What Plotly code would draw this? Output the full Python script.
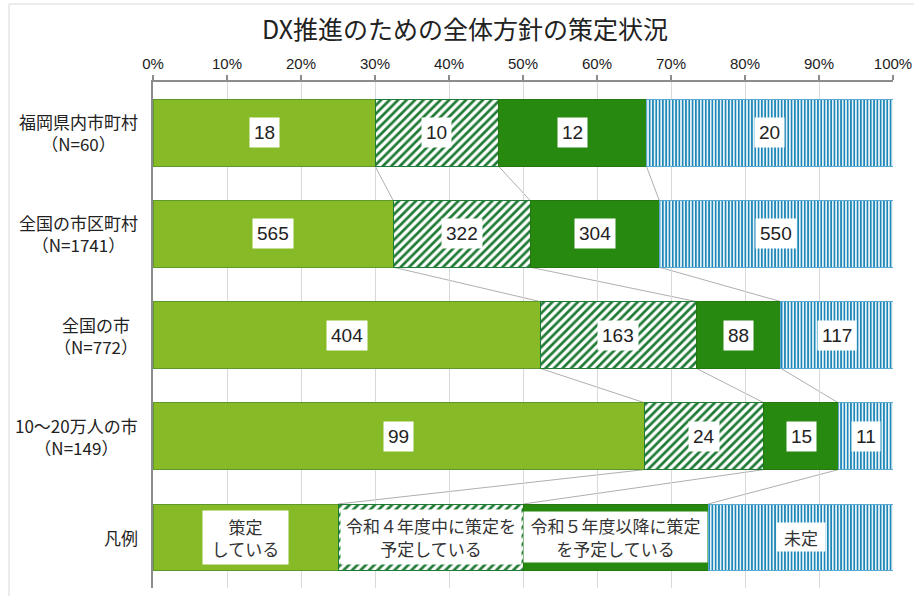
import plotly.graph_objects as go

# ---------------- data ----------------
categories = ["福岡県内市町村", "全国の市区町村", "全国の市", "10～20万人の市", "凡例"]
n_labels = ["（N=60）", "（N=1741）", "（N=772）", "（N=149）", ""]
totals = [60, 1741, 772, 149]

series_names = ["策定している", "令和４年度中に策定を予定している", "令和５年度以降に策定を予定している", "未定"]
sakutei = [18, 565, 404, 99]
r4 = [10, 322, 163, 24]
r5 = [12, 304, 88, 15]
mitei = [20, 550, 117, 11]
legend_share = [25, 25, 25, 25]   # the 凡例 row: four equal parts
legend_texts = ["策定<br>している", "令和４年度中に策定を<br>予定している",
                "令和５年度以降に策定<br>を予定している", "未定"]
x_ticks = [0, 10, 20, 30, 40, 50, 60, 70, 80, 90, 100]
x_tick_labels = [f"{v}%" for v in x_ticks]

# ---------------- styles ----------------
LIGHT = "#86BB27"
DARK = "#27890F"
HATCH = "#1F7A34"
BLUE = "#1D87B8"
NUMFONT = "'Liberation Sans Narrow', 'Liberation Sans', Arial, sans-serif"
JPFONT = "'Noto Sans CJK JP', sans-serif"
BARW = 0.66

counts = [sakutei, r4, r5, mitei]
pct = []
for s in counts:
    row = [v / t * 100 for v, t in zip(s, totals)] + [None]
    pct.append(row)
for k in range(4):
    pct[k][4] = legend_share[k]

styles = [
    dict(color=LIGHT, line=dict(color="#5E9A2A", width=1)),
    dict(color=HATCH, line=dict(color=HATCH, width=1),
         pattern=dict(shape="/", fgcolor=HATCH, bgcolor="white", size=6, solidity=0.45, fillmode="replace")),
    dict(color=DARK, line=dict(color="#22780E", width=1)),
    dict(color=BLUE, line=dict(color="#5AA9D0", width=1),
         pattern=dict(shape="|", fgcolor=BLUE, bgcolor="white", size=3.3, solidity=0.55, fillmode="replace")),
]

fig = go.Figure()
for k in range(4):
    fig.add_trace(go.Bar(
        y=categories, x=pct[k], orientation="h", name=series_names[k],
        marker=styles[k], width=[BARW] * len(categories), hoverinfo="skip",
    ))

annotations = []
# value labels
for i in range(4):
    cum = 0
    for k in range(4):
        p = pct[k][i]
        annotations.append(dict(
            x=cum + p / 2, y=categories[i], xref="x", yref="y",
            text=str(counts[k][i]), showarrow=False,
            font=dict(family=NUMFONT, size=19, color="#222222"),
            bgcolor="white", borderpad=4,
        ))
        cum += p
# legend row labels
leg_sizes = [(83, 51), (178, 52), (181, 48), (46, 26)]
cum = 0
for k in range(4):
    p = pct[k][4]
    w, h = leg_sizes[k]
    annotations.append(dict(
        x=cum + p / 2, y=categories[4], xref="x", yref="y",
        text=legend_texts[k], showarrow=False, align="center",
        font=dict(family=JPFONT, size=17, color="#333333"),
        bgcolor="white", borderpad=1, width=w, height=h,
    ))
    cum += p
# y-axis category labels
for i, c in enumerate(categories):
    txt = c if not n_labels[i] else f"{c}<br>{n_labels[i]}"
    annotations.append(dict(
        x=0, y=c, xref="paper", yref="y", xanchor="right", xshift=-13,
        text=txt, showarrow=False, align="center",
        font=dict(family=JPFONT, size=17, color="#222222"),
    ))

# connector lines between bars
shapes = []
cums = []
for i in range(5):
    c, row = 0, []
    for k in range(3):
        c += pct[k][i]
        row.append(c)
    cums.append(row)
for i in range(4):
    for k in range(3):
        shapes.append(dict(
            type="line", xref="x", yref="y",
            x0=cums[i][k], y0=i + BARW / 2, x1=cums[i + 1][k], y1=i + 1 - BARW / 2,
            line=dict(color="#AFAFAF", width=1), layer="below",
        ))
# outer frame (top and left)
L, T, PW, PH = 153, 82, 740, 506
shapes.append(dict(type="line", xref="paper", yref="paper",
                   x0=(9 - L) / PW, x1=1.2, y0=(588 - 4) / PH, y1=(588 - 4) / PH,
                   line=dict(color="#D9D9D9", width=1)))
shapes.append(dict(type="line", xref="paper", yref="paper",
                   x0=(9 - L) / PW, x1=(9 - L) / PW, y0=(588 - 4) / PH, y1=-0.1,
                   line=dict(color="#D9D9D9", width=1)))

fig.update_layout(
    width=914, height=596,
    margin=dict(l=L, r=914 - L - PW, t=T, b=596 - T - PH, autoexpand=False),
    barmode="stack", bargap=0.34, showlegend=False,
    plot_bgcolor="white", paper_bgcolor="white",
    title=dict(text="DX推進のための全体方針の策定状況", x=465 / 914, xref="container",
               y=1 - 30 / 596, yref="container", xanchor="center", yanchor="middle",
               font=dict(family=JPFONT, size=25, color="#222222")),
    annotations=annotations, shapes=shapes,
)
fig.update_xaxes(
    side="top", range=[0, 100], tickvals=x_ticks, ticktext=x_tick_labels,
    showgrid=True, gridcolor="#D9D9D9", gridwidth=1,
    showline=True, linecolor="#8C8C8C", linewidth=2,
    ticks="outside", ticklen=5, tickcolor="#8C8C8C", tickwidth=2,
    tickfont=dict(family=NUMFONT, size=15, color="#222222"), zeroline=False,
    fixedrange=True,
)
fig.update_yaxes(
    autorange="reversed", showticklabels=False, showgrid=False,
    showline=True, linecolor="#8C8C8C", linewidth=2, ticks="", fixedrange=True,
)

fig.write_html("out.html", config={"displayModeBar": False},
               post_script="document.body.style.margin='0';document.body.style.padding='0';")
